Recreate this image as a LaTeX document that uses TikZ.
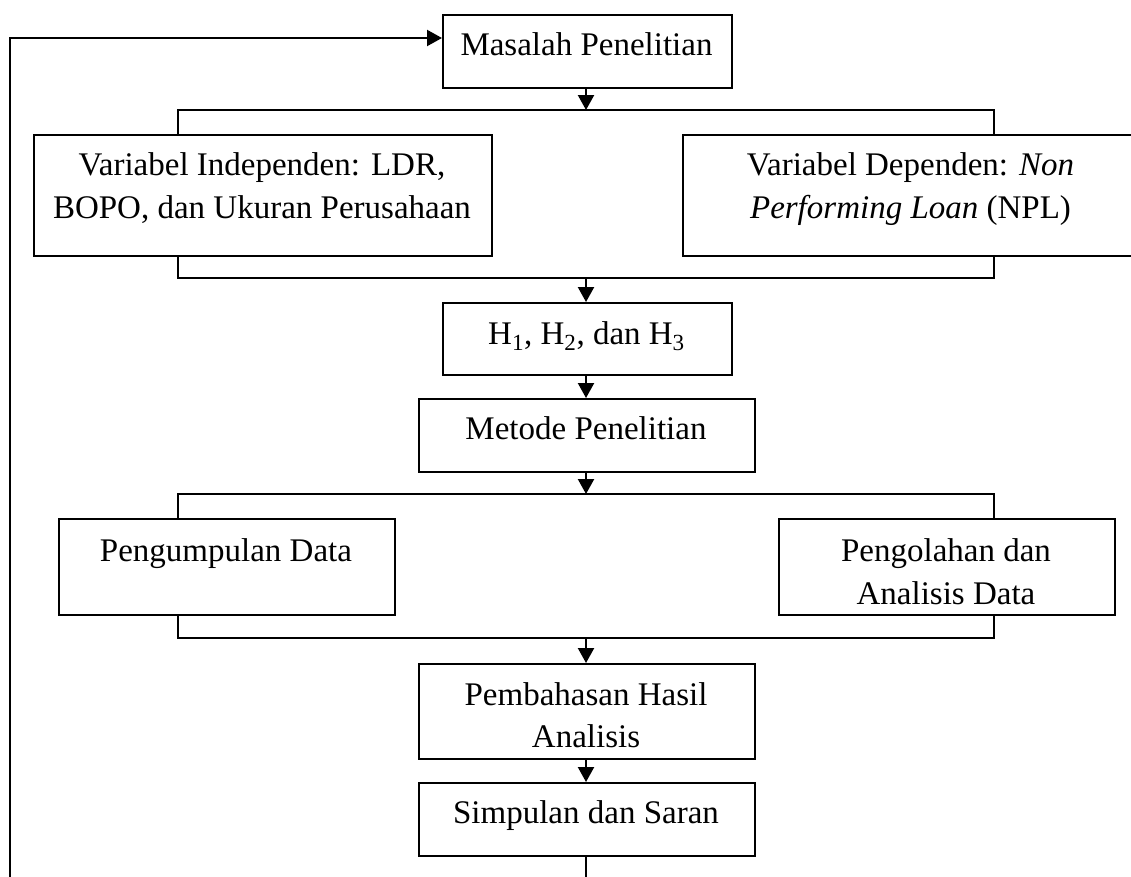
\documentclass[tikz,border=0pt]{standalone}
\usepackage{fontspec}
\setmainfont{Liberation Serif}
\usetikzlibrary{arrows.meta}
\begin{document}
\begin{tikzpicture}[x=1pt,y=-1pt,
  box/.style={draw,line width=2.2pt,inner sep=0pt,anchor=north west},
  txt/.style={inner sep=0pt,anchor=base,font=\fontsize{33}{42}\selectfont},
  conn/.style={line width=2.2pt},
  arr/.style={line width=2.2pt,-{Triangle[length=15pt,width=16pt]}}]
\clip (0,0) rectangle (1131,876);
% boxes
\node[box,minimum width=289,minimum height=73] (masalah) at (442,14) {};
\node[box,minimum width=458,minimum height=121] (vl) at (33,134) {};
\node[box,minimum width=457,minimum height=121] (vr) at (682,134) {};
\node[box,minimum width=289,minimum height=72] (hyp) at (442,302) {};
\node[box,minimum width=336,minimum height=73] (metode) at (418,398) {};
\node[box,minimum width=336,minimum height=96] (kumpul) at (58,518) {};
\node[box,minimum width=336,minimum height=96] (olah) at (778,518) {};
\node[box,minimum width=336,minimum height=95] (bahas) at (418,663) {};
\node[box,minimum width=336,minimum height=73] (simpul) at (418,782) {};
% texts
\node[txt] (tmas) at (586.5,55) {Masalah Penelitian};
\node[txt] (tvl1) at (262,175) {Variabel Independen: LDR,};
\node[txt] (tvl2) at (262,218) {BOPO, dan Ukuran Perusahaan};
\node[txt] (tvr1) at (910.5,175) {Variabel Dependen: \textit{Non}};
\node[txt] (tvr2) at (910.5,218) {\textit{Performing Loan} (NPL)};
\node[txt] (thyp) at (586.5,344) {H\textsubscript{1}, H\textsubscript{2}, dan H\textsubscript{3}};
\node[txt] (tmet) at (586,439) {Metode Penelitian};
\node[txt] (tkum) at (226,561) {Pengumpulan Data};
\node[txt] (tol1) at (946,561) {Pengolahan dan};
\node[txt] (tol2) at (946,604) {Analisis Data};
\node[txt] (tba1) at (586,705) {Pembahasan Hasil};
\node[txt] (tba2) at (586,747) {Analisis};
\node[txt] (tsim) at (586,823) {Simpulan dan Saran};
% branch coordinates
\coordinate (b1) at (586,110);
\coordinate (b1L) at (178,110);
\coordinate (b1R) at (994,110);
\coordinate (m1) at (586,278);
\coordinate (m1L) at (178,278);
\coordinate (m1R) at (994,278);
\coordinate (b2) at (586,494);
\coordinate (b2L) at (178,494);
\coordinate (b2R) at (994,494);
\coordinate (m2) at (586,638);
\coordinate (m2L) at (178,638);
\coordinate (m2R) at (994,638);
\coordinate (fbB) at (10,880);
\coordinate (fbT) at (10,38);
\coordinate (endS) at (586,880);
% connectors
\draw[arr] (masalah.south -| b1) -- (b1);
\draw[conn] (vl.north -| b1L) -- (b1L) -- (b1R) -- (vr.north -| b1R);
\draw[conn] (vl.south -| m1L) -- (m1L) -- (m1R) -- (vr.south -| m1R);
\draw[arr] (m1) -- (hyp.north -| m1);
\draw[arr] (hyp.south -| m1) -- (metode.north -| m1);
\draw[arr] (metode.south -| b2) -- (b2);
\draw[conn] (kumpul.north -| b2L) -- (b2L) -- (b2R) -- (olah.north -| b2R);
\draw[conn] (kumpul.south -| m2L) -- (m2L) -- (m2R) -- (olah.south -| m2R);
\draw[arr] (m2) -- (bahas.north -| m2);
\draw[arr] (bahas.south -| m2) -- (simpul.north -| m2);
\draw[conn] (simpul.south -| m2) -- (endS);
\draw[arr] (fbB) -- (fbT) -- (masalah.west |- fbT);
\end{tikzpicture}
\end{document}
